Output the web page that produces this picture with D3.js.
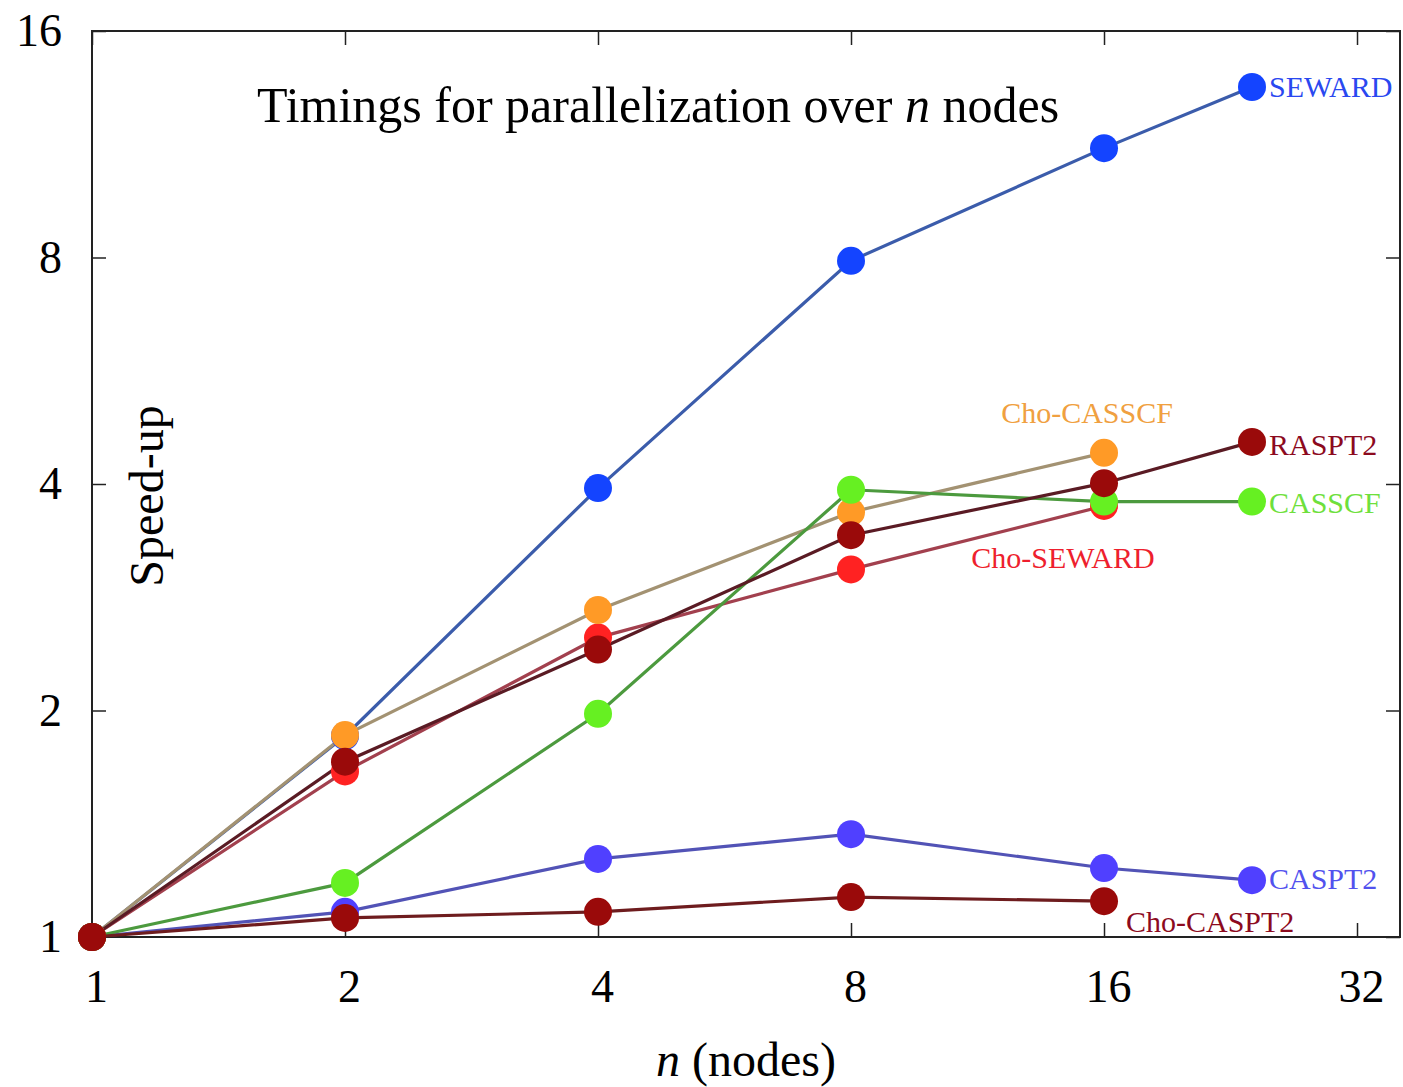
<!DOCTYPE html>
<html>
<head>
<meta charset="utf-8">
<script src="https://cdn.jsdelivr.net/npm/d3@7"></script>
<style>
  body { margin: 0; background: #fff; }
  svg text { font-family: "Liberation Serif", "Times New Roman", serif; }
</style>
</head>
<body>
<div id="chart"></div>
<script>
// node counts (x) and speed-ups
const nodes = [1, 2, 4, 8, 16, 24];
const seward = [1, 1.85, 3.95, 7.92, 11.18, 13.48];
const choSeward = [1, 1.66, 2.5, 3.08, 3.74];
const caspt2 = [1, 1.08, 1.27, 1.37, 1.235, 1.19];
const choCasscf = [1, 1.855, 2.72, 3.67, 4.4];
const casscf = [1, 1.18, 1.98, 3.93, 3.79, 3.79];
const raspt2 = [1, 1.71, 2.41, 3.42, 4.01, 4.55];
const choCaspt2 = [1, 1.06, 1.08, 1.13, 1.116];

const xTicks = [1, 2, 4, 8, 16, 32];
const yTicks = [1, 2, 4, 8, 16];

const W = 1403, H = 1087;
const mLeft = 92, mRight = 1400, mTop = 31, mBottom = 937;

// draw order matters: later markers sit on top
const series = [
  { name: "SEWARD",     vals: seward,    line: "#3b5cab", dot: "#1444ff", txt: "#2a48f0", lab: { dx: 17, dy: 10, anchor: "start" } },
  { name: "Cho-SEWARD", vals: choSeward, line: "#a2404e", dot: "#ff2222", txt: "#ee1f2e", lab: { dx: -41, dy: 62, anchor: "middle" } },
  { name: "CASPT2",     vals: caspt2,    line: "#5253b6", dot: "#5040ff", txt: "#5252ee", lab: { dx: 17, dy: 9, anchor: "start" } },
  { name: "Cho-CASSCF", vals: choCasscf, line: "#a39272", dot: "#ff9a26", txt: "#f0a040", lab: { dx: -17, dy: -30, anchor: "middle" } },
  { name: "CASSCF",     vals: casscf,    line: "#4c9a3e", dot: "#66f022", txt: "#6ee03c", lab: { dx: 17, dy: 11, anchor: "start" } },
  { name: "RASPT2",     vals: raspt2,    line: "#5a1b24", dot: "#9a0a0a", txt: "#8c0a1e", lab: { dx: 17, dy: 13, anchor: "start" } },
  { name: "Cho-CASPT2", vals: choCaspt2, line: "#6e1c1e", dot: "#9a0a0a", txt: "#8c0a1e", lab: { dx: 22, dy: 31, anchor: "start" } }
];

const svg = d3.select("#chart").append("svg")
  .attr("width", W).attr("height", H);

const x = d3.scaleLog().base(2).domain([1, 36]).range([mLeft, mRight]);
const y = d3.scaleLog().base(2).domain([1, 16]).range([mBottom, mTop]);

// axes, ticks point inwards on all four sides
const fmt = d3.format("d");
const gx = svg.append("g").attr("transform", "translate(0," + mBottom + ")")
  .call(d3.axisBottom(x).tickValues(xTicks).tickFormat(fmt).tickSizeInner(-14).tickSizeOuter(0).tickPadding(32));
const gy = svg.append("g").attr("transform", "translate(" + mLeft + ",0)")
  .call(d3.axisLeft(y).tickValues(yTicks).tickFormat(fmt).tickSizeInner(-14).tickSizeOuter(0).tickPadding(30));
svg.append("g").attr("transform", "translate(0," + mTop + ")")
  .call(d3.axisTop(x).tickValues(xTicks).tickFormat("").tickSizeInner(-14).tickSizeOuter(0));
svg.append("g").attr("transform", "translate(" + mRight + ",0)")
  .call(d3.axisRight(y).tickValues(yTicks).tickFormat("").tickSizeInner(-14).tickSizeOuter(0));

svg.selectAll(".domain").remove();
svg.selectAll(".tick line").attr("stroke", "#222").attr("stroke-width", 1.5);
svg.selectAll(".tick text").attr("fill", "#000")
  .style("font-family", "Liberation Serif").style("font-size", "46px");
gx.selectAll(".tick text").attr("dx", 4);

svg.append("rect")
  .attr("x", mLeft).attr("y", mTop)
  .attr("width", mRight - mLeft).attr("height", mBottom - mTop)
  .attr("fill", "none").attr("stroke", "#222").attr("stroke-width", 2);

const line = d3.line()
  .x(function(d, i) { return x(nodes[i]); })
  .y(function(d) { return y(d); });

// lines under markers
series.forEach(function(s) {
  svg.append("path")
    .datum(s.vals)
    .attr("d", line)
    .attr("fill", "none")
    .attr("stroke", s.line)
    .attr("stroke-width", 3.2);
});

series.forEach(function(s) {
  svg.append("g").selectAll("circle")
    .data(s.vals)
    .enter().append("circle")
    .attr("cx", function(d, i) { return x(nodes[i]); })
    .attr("cy", function(d) { return y(d); })
    .attr("r", 14)
    .attr("fill", s.dot);
});

// series labels next to their last point
series.forEach(function(s) {
  const last = s.vals.length - 1;
  svg.append("text")
    .attr("x", x(nodes[last]) + s.lab.dx)
    .attr("y", y(s.vals[last]) + s.lab.dy)
    .attr("text-anchor", s.lab.anchor)
    .attr("fill", s.txt)
    .style("font-size", "30px")
    .text(s.name);
});

// title
const title = svg.append("text")
  .attr("x", 658).attr("y", 122)
  .attr("text-anchor", "middle")
  .style("font-size", "50px");
title.append("tspan").text("Timings for parallelization over ");
title.append("tspan").style("font-style", "italic").text("n");
title.append("tspan").text(" nodes");

// axis titles
const xl = svg.append("text")
  .attr("x", 746).attr("y", 1076)
  .attr("text-anchor", "middle")
  .style("font-size", "48px");
xl.append("tspan").style("font-style", "italic").text("n");
xl.append("tspan").text(" (nodes)");

svg.append("text")
  .attr("transform", "translate(163,496) rotate(-90)")
  .attr("text-anchor", "middle")
  .style("font-size", "48px")
  .text("Speed-up");
</script>
</body>
</html>
